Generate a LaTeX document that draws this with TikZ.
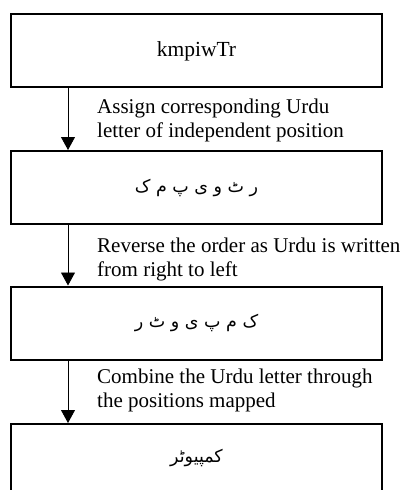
\documentclass[tikz,border=0pt]{standalone}
\usepackage{fontspec}
\setmainfont{Liberation Serif}
\newfontfamily\urdufont[Script=Arabic]{DejaVu Sans}
\TeXXeTstate=1
\usetikzlibrary{arrows.meta}
\begin{document}
\begin{tikzpicture}[x=1pt,y=-1pt,
  stepbox/.style={draw, line width=2pt, minimum width=371pt, minimum height=73pt, inner sep=0pt},
  flow/.style={line width=0.9pt, -{Triangle[width=14pt,length=13pt]}},
  lbl/.style={anchor=north west, align=left, inner sep=0pt, font=\fontsize{21}{24}\selectfont},
  urdu/.style={font=\urdufont\fontsize{17.5}{20}\selectfont}]
\clip (0,0) rectangle (404,490);
\useasboundingbox (0,0) rectangle (404,490);
\node[stepbox] (b1) at (196.5,50.5) {};
\node[font=\fontsize{21.5}{24}\selectfont, anchor=base] (t1) at (196.5,56) {kmpiwTr};
\node[stepbox] (b2) at (196.5,187.5) {};
\node[urdu] (t2) at (b2) {\beginR ر ٹ و ی پ م ک\endR};
\node[stepbox] (b3) at (196.5,323) {};
\node[urdu] (t3) at (b3) {\beginR ک م پ ی و ٹ ر\endR};
\node[stepbox] (b4) at (196.5,460.5) {};
\node[urdu] (t4) at (196.5,458) {\beginR کمپیوٹر\endR};
\coordinate (a1s) at (68,87);
\coordinate (a1e) at (68,152);
\coordinate (a2s) at (68,223);
\coordinate (a2e) at (68,287);
\coordinate (a3s) at (68,359);
\coordinate (a3e) at (68,424);
\draw[flow] (b1.south -| a1s) -- (b2.north -| a1e);
\draw[flow] (b2.south -| a2s) -- (b3.north -| a2e);
\draw[flow] (b3.south -| a3s) -- (b4.north -| a3e);
\node[lbl] (l1) at (97,98.5) {Assign corresponding Urdu\\letter of independent position};
\node[lbl] (l2) at (97,237.5) {Reverse the order as Urdu is written\\from right to left};
\node[lbl] (l3) at (97,368.5) {Combine the Urdu letter through\\the positions mapped};
\end{tikzpicture}
\end{document}
